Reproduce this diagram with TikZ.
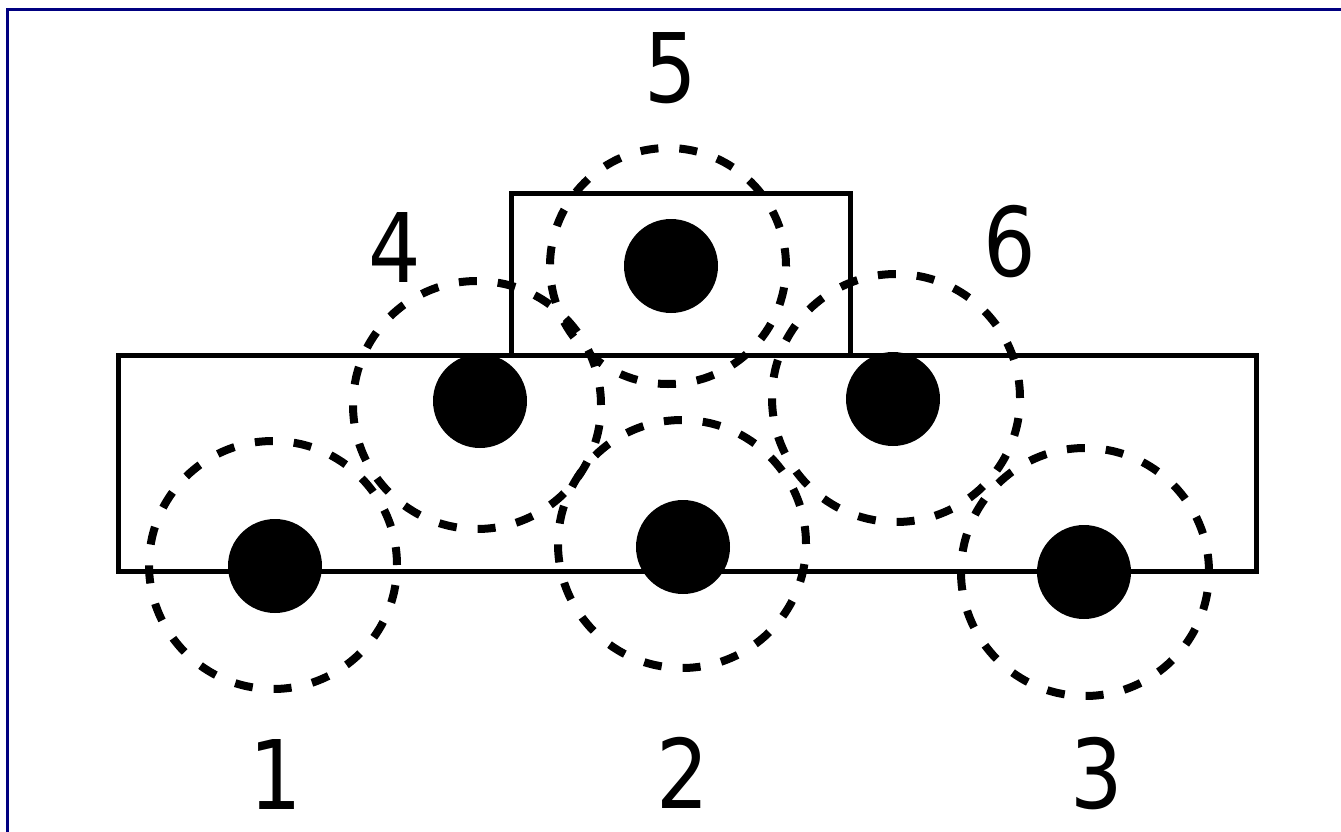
\documentclass[tikz,border=0pt]{standalone}
\usepackage{fontspec}
\setmainfont{DejaVu Sans}[FakeStretch=0.86]
\usepackage{xcolor}
\usetikzlibrary{positioning}
\definecolor{frameNavy}{RGB}{0, 0, 128}

\begin{document}
\begin{tikzpicture}[
            x=1pt, y=-1pt, % pixel grid, origin top left
            % Define Block Styles
            plate/.style={
                rectangle,
                draw=black,
                line width=5pt,
                inner sep=0pt
            },
            dot/.style={
                circle,
                fill=black,
                inner sep=0pt,
                minimum size=94pt
            },
            ring/.style={
                circle,
                draw=black,
                line width=8pt,
                dash pattern=on 18pt off 21pt,
                inner sep=0pt,
                minimum size=248pt
            },
            num/.style={
                font=\fontsize{96}{96}\selectfont,
                inner sep=0pt
            }
        ]
        \useasboundingbox (0,0) rectangle (1341,832);

        % --- Frame ---
        \draw[frameNavy, line width=3.5pt] (7.5,832) -- (7.5,9.5) -- (1341,9.5);

        % --- Plates ---
        \node [plate, minimum width=1138pt, minimum height=216pt] (base) at (687,463) {};
        \node [plate, minimum width=339pt, minimum height=162pt] (top) at (680.5,274) {};

        % --- Dots ---
        \node [dot] (d1) at (275,566) {};
        \node [dot] (d2) at (683,547) {};
        \node [dot] (d3) at (1084,572) {};
        \node [dot] (d4) at (480,401) {};
        \node [dot] (d5) at (671,266) {};
        \node [dot] (d6) at (893,399) {};

        % --- Dashed rings ---
        \node [ring] (r1) at (273,565) {};
        \node [ring] (r2) at (682,544) {};
        \node [ring] (r3) at (1085,572) {};
        \node [ring] (r4) at (477,405) {};
        \node [ring, minimum size=236pt] (r5) at (668,266) {};
        \node [ring] (r6) at (896,398) {};

        % --- Labels ---
        \node [num] (n1) at (276,774) {1};
        \node [num] (n2) at (683,773) {2};
        \node [num] (n3) at (1097,774) {3};
        \node [num] (n4) at (395,248) {4};
        \node [num] (n5) at (671,68) {5};
        \node [num] (n6) at (1010,242) {6};

        \end{tikzpicture}
\end{document}
